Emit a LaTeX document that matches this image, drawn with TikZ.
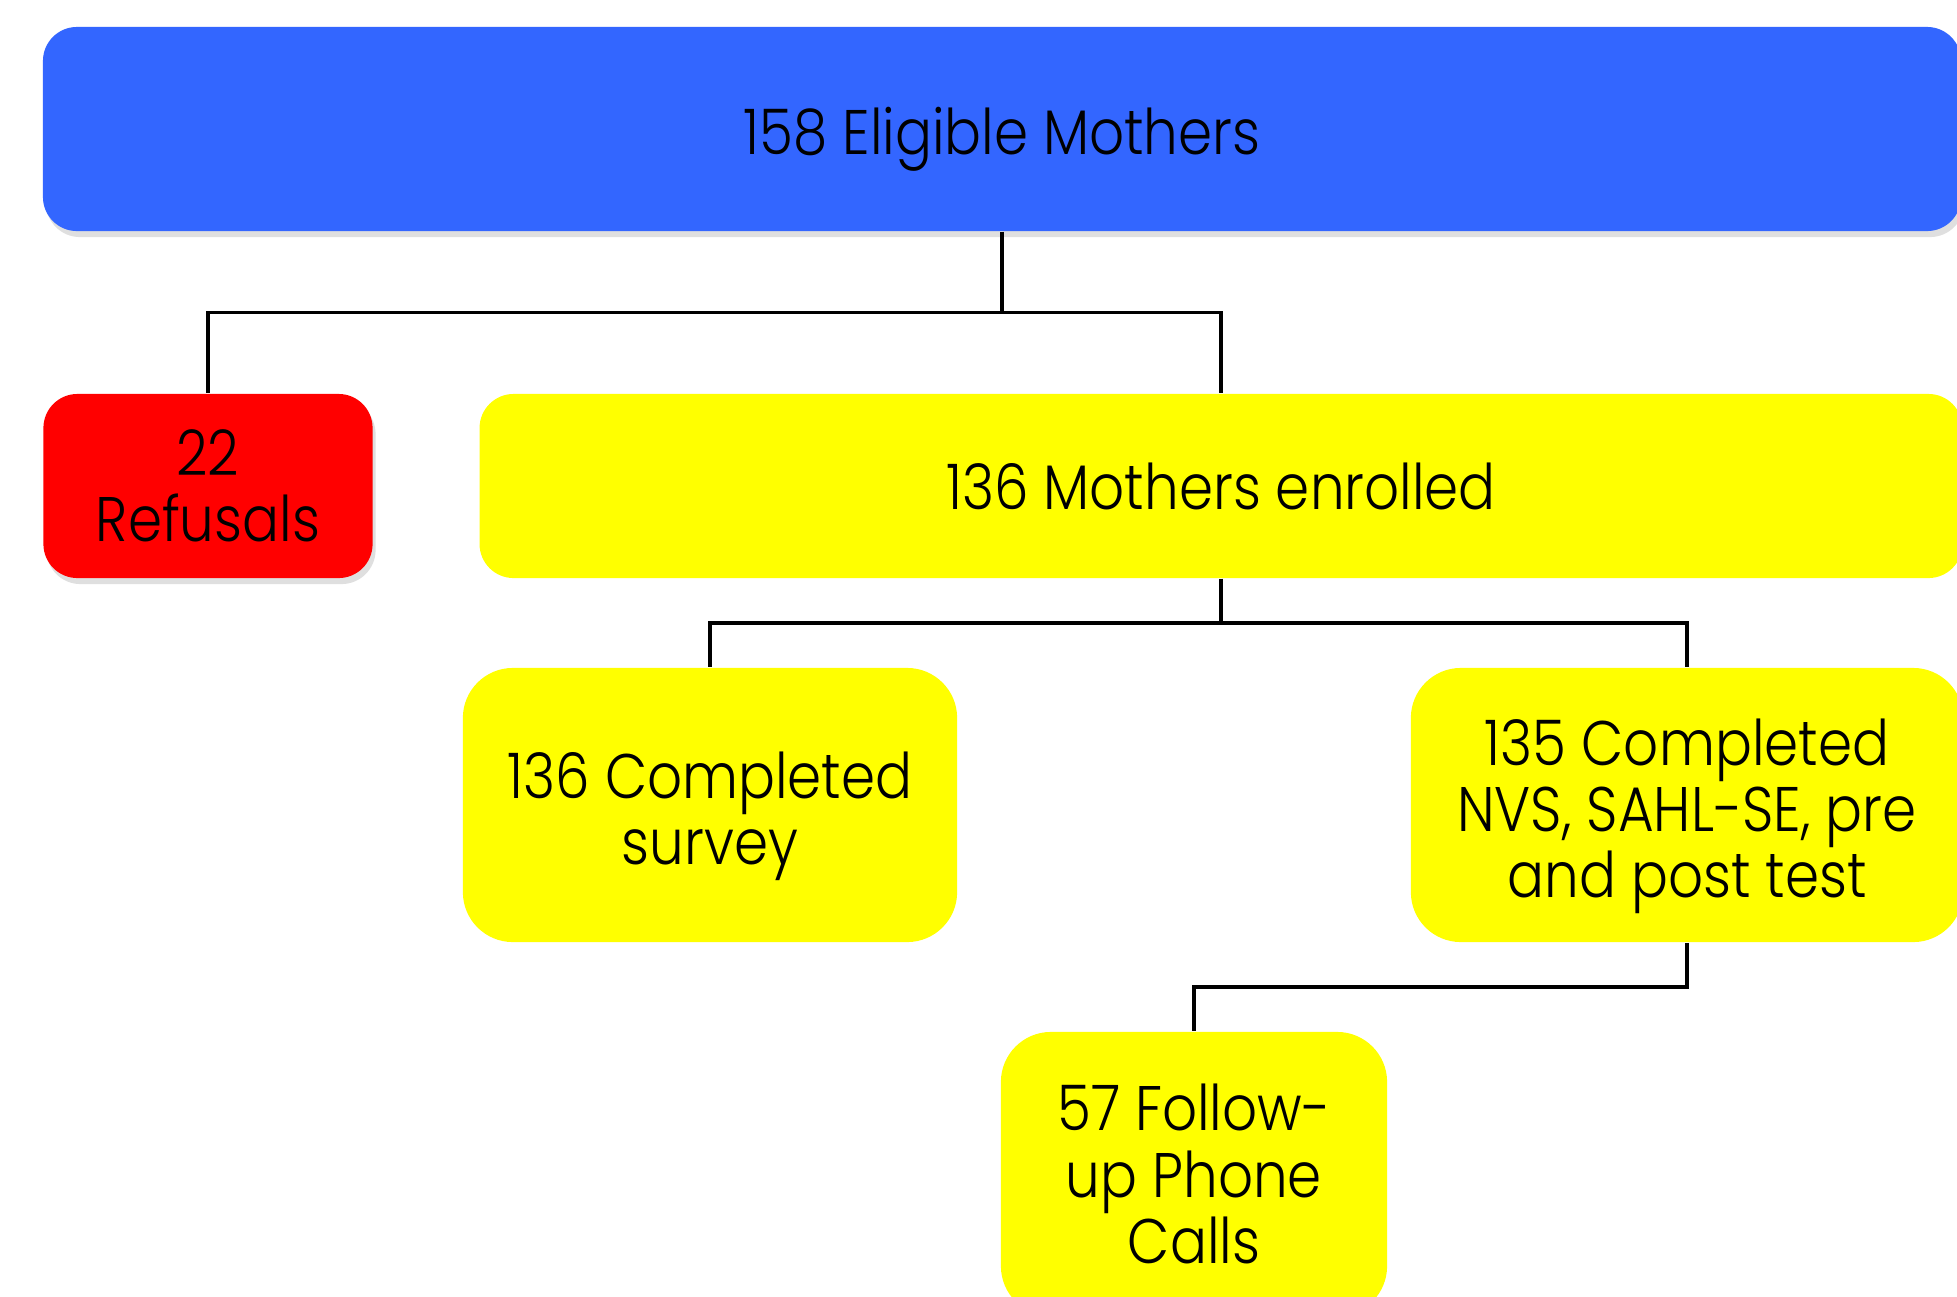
\documentclass[tikz,border=0pt]{standalone}
\usepackage{fontspec}
\setmainfont{Poppins}[UprightFont=* Light, FakeStretch=0.87]
\usetikzlibrary{calc,shadows}

\definecolor{bluebox}{RGB}{51,102,255}
\definecolor{redbox}{RGB}{255,0,0}
\definecolor{yellowbox}{RGB}{255,255,0}

% extra room above the first line, pushes the text a bit down
\newcommand{\dropline}{\rule{0pt}{19.5pt}}

\tikzset{
  box/.style={rectangle, inner sep=0pt, align=center, font=\fontsize{17.9pt}{18.8pt}\selectfont},
  flat/.style={box, rounded corners=3.4mm},
  tall/.style={box, rounded corners=5mm, fill=yellowbox},
  link/.style={line width=1pt, black},
  shade/.style={drop shadow={opacity=0.25, shadow xshift=0.3mm, shadow yshift=-0.6mm}}
}

\begin{document}
\begin{tikzpicture}[x=0.01cm,y=-0.01cm]
\useasboundingbox (0,0) rectangle (1957,1296);
\fill[white] (0,0) rectangle (1957,1296);
\clip (0,0) rectangle (1957,1296);

\draw node [flat, fill=bluebox, shade, minimum width=19.17cm, minimum height=2.04cm] (top) at (1002,129) {\dropline158 Eligible Mothers};
\draw node [flat, fill=redbox, shade, minimum width=3.29cm, minimum height=1.84cm] (refusal) at (208,486) {22\\Refusals};
\draw node [flat, fill=yellowbox, minimum width=14.82cm, minimum height=1.84cm] (enrolled) at (1221,486) {136 Mothers enrolled};

\draw node [tall, minimum width=4.94cm, minimum height=2.74cm] (survey) at (710,805) {\dropline136 Completed\\survey};
\draw node [tall, minimum width=5.52cm, minimum height=2.74cm] (nvs) at (1687,805) {\dropline135 Completed\\NVS, SAHL-SE, pre\\and post test};
\draw node [tall, minimum width=3.86cm, minimum height=2.84cm] (followup) at (1194,1174) {57 Follow-\\up Phone\\Calls};

\draw[link] (top.south) |- ($(top.south)!0.5!(refusal.north)$) -| (refusal.north);
\draw[link] (top.south) |- ($(top.south)!0.5!(enrolled.north)$) -| (enrolled.north);

\draw[link] (enrolled.south) |- ($(enrolled.south)!0.5!(survey.north)$) -| (survey.north);
\draw[link] (enrolled.south) |- ($(enrolled.south)!0.5!(nvs.north)$) -| (nvs.north);

\draw[link] (nvs.south) |- ($(nvs.south)!0.5!(followup.north)$) -| (followup.north);

\end{tikzpicture}
\end{document}
